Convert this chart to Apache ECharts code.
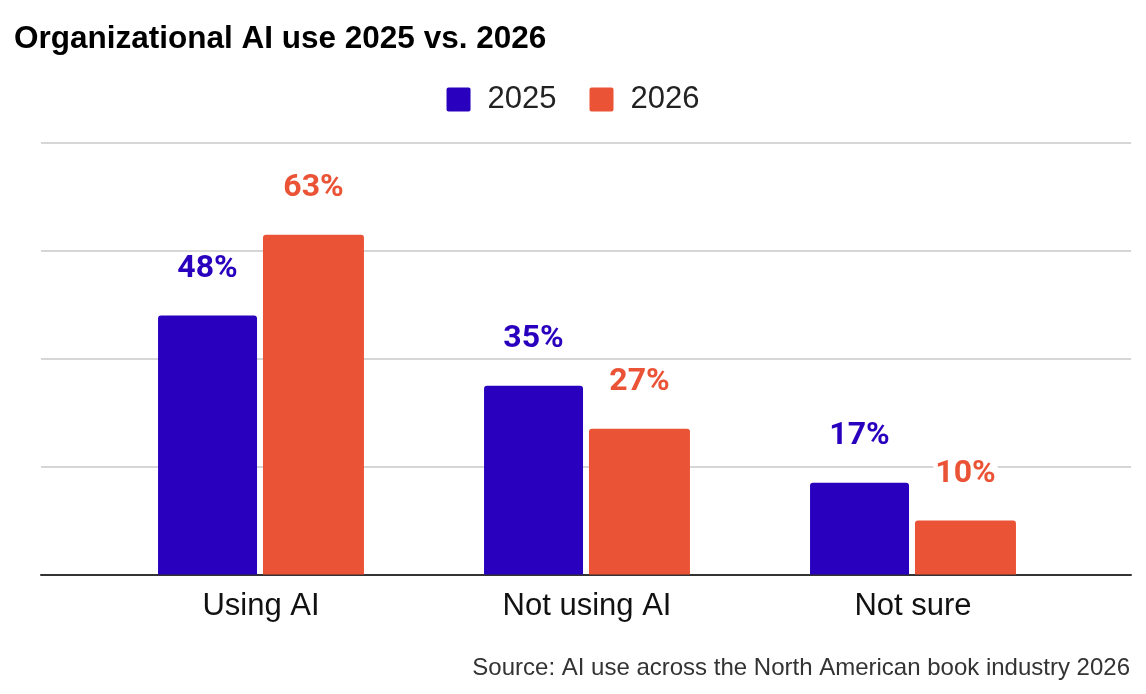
<!DOCTYPE html>
<html>
<head>
<meta charset="utf-8">
<script src="https://cdn.jsdelivr.net/npm/echarts@6/dist/echarts.min.js"></script>
<style>
html,body{margin:0;padding:0;background:#fff;}
#chart{width:1146px;height:694px;}
</style>
</head>
<body>
<div id="chart"></div>
<script>
const categories = ['Using AI', 'Not using AI', 'Not sure'];
const values2025 = [48, 35, 17];
const values2026 = [63, 27, 10];
const seriesNames = ['2025', '2026'];
const colors = ['#2a00bf', '#eb5337'];

const chart = echarts.init(document.getElementById('chart'));
const labelFont = 'Roboto, "Liberation Sans", sans-serif';
const mainFont = '"Liberation Sans", Arial, sans-serif';

function makeLabel(color) {
  return {
    show: true,
    position: 'top',
    distance: 31,
    formatter: '{c}%',
    color: color,
    fontFamily: labelFont,
    fontWeight: 'bold',
    fontSize: 32,
    backgroundColor: '#fff',
    padding: [0, 2]
  };
}

chart.setOption({
  animation: false,
  title: {
    text: 'Organizational AI use 2025 vs. 2026',
    left: 14,
    top: 23,
    padding: 0,
    textStyle: { fontFamily: mainFont, fontWeight: 'bold', fontSize: 31.5, color: '#000' }
  },
  legend: {
    data: seriesNames,
    left: 'center',
    top: 79,
    itemWidth: 24,
    itemHeight: 24,
    itemGap: 33,
    icon: 'path://M2,0 H22 A2,2 0 0 1 24,2 V22 A2,2 0 0 1 22,24 H2 A2,2 0 0 1 0,22 V2 A2,2 0 0 1 2,0 Z',
    textStyle: { fontFamily: mainFont, fontSize: 31, color: '#222', padding: [0, 0, 0, 12] }
  },
  grid: [
    { left: 41, right: 15, top: 143, bottom: 119.5 },
    { left: 98, right: 70, top: 143, bottom: 119.5 }
  ],
  xAxis: [
    {
      gridIndex: 0, type: 'value', min: 0, max: 1,
      axisLine: { show: true, lineStyle: { color: '#333', width: 2 } },
      axisTick: { show: false }, axisLabel: { show: false }, splitLine: { show: false }
    },
    {
      gridIndex: 1, type: 'category', data: categories,
      axisLine: { show: false }, axisTick: { show: false },
      axisLabel: { margin: 16, fontFamily: mainFont, fontSize: 31, color: '#111' }
    }
  ],
  yAxis: [
    {
      gridIndex: 0, type: 'value', min: 0, max: 80, interval: 20,
      axisLine: { show: false }, axisTick: { show: false }, axisLabel: { show: false },
      splitLine: { show: true, lineStyle: { color: '#c8c8c8', width: 1.5 } }
    },
    {
      gridIndex: 1, type: 'value', min: 0, max: 80, interval: 20,
      axisLine: { show: false }, axisTick: { show: false }, axisLabel: { show: false },
      splitLine: { show: false }
    }
  ],
  series: [
    {
      name: seriesNames[0], type: 'bar', xAxisIndex: 1, yAxisIndex: 1,
      data: values2025, barWidth: 99, barGap: '6%',
      itemStyle: { color: colors[0], borderRadius: [3, 3, 0, 0] },
      label: makeLabel(colors[0]), z: 3
    },
    {
      name: seriesNames[1], type: 'bar', xAxisIndex: 1, yAxisIndex: 1,
      data: values2026, barWidth: 101,
      itemStyle: { color: colors[1], borderRadius: [3, 3, 0, 0] },
      label: makeLabel(colors[1]), z: 3
    }
  ],
  graphic: [
    {
      type: 'text', right: 16, top: 656,
      style: {
        text: 'Source: AI use across the North American book industry 2026',
        font: '24px "Liberation Sans", Arial, sans-serif',
        fill: '#333'
      }
    }
  ]
});
</script>
</body>
</html>
